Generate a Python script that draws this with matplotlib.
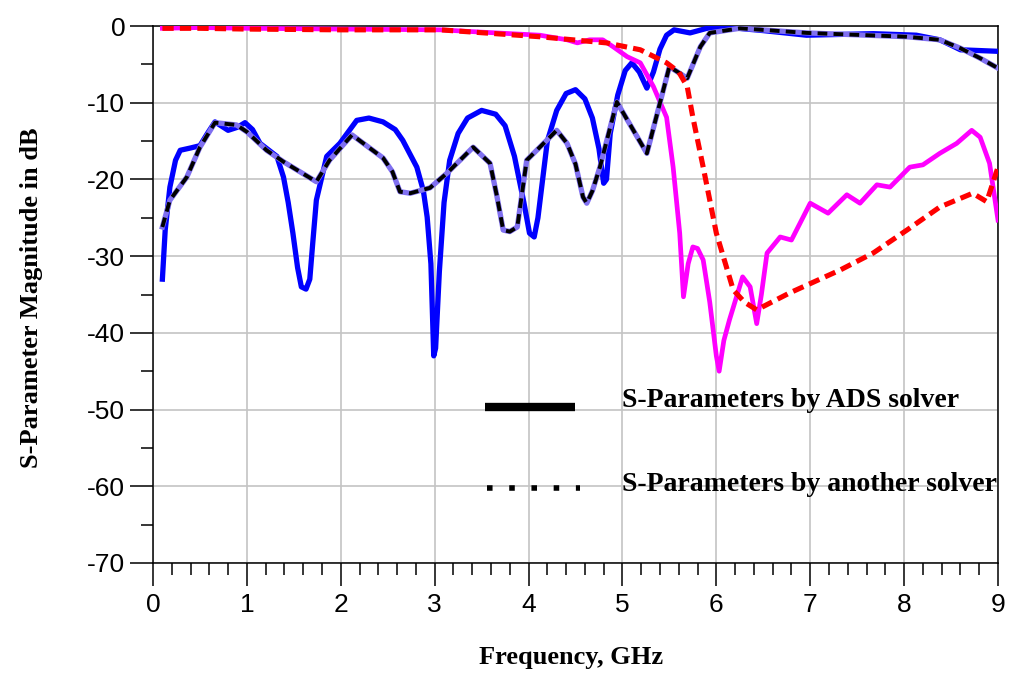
import matplotlib
matplotlib.use("Agg")
import matplotlib.pyplot as plt
from matplotlib.ticker import MultipleLocator

plt.rcParams["axes.unicode_minus"] = False

# ---- data (frequency in GHz, magnitude in dB) ----
blue_f = [0.10, 0.13, 0.18, 0.24, 0.29, 0.40, 0.50, 0.58, 0.66, 0.80, 0.90, 0.98, 1.06, 1.14, 1.32, 1.39,
          1.44, 1.49, 1.54, 1.58, 1.63, 1.67, 1.70, 1.74, 1.85, 1.99, 2.17, 2.30, 2.45, 2.58, 2.66, 2.81,
          2.88, 2.92, 2.96, 2.99, 3.01, 3.05, 3.10, 3.16, 3.25, 3.35, 3.50, 3.65, 3.75, 3.85, 3.95, 4.01,
          4.06, 4.10, 4.13, 4.20, 4.30, 4.40, 4.50, 4.60, 4.68, 4.75, 4.80, 4.83, 4.87, 4.95, 5.03, 5.10,
          5.18, 5.26, 5.33, 5.40, 5.47, 5.55, 5.72, 5.90, 6.05, 6.50, 6.96, 7.67, 8.13, 8.38, 8.50, 8.60,
          9.00]
blue_db = [-33.0, -26.6, -21.0, -17.5, -16.2, -15.9, -15.6, -14.0, -12.5, -13.6, -13.2, -12.6, -13.5, -15.3, -17.0, -19.7,
           -23.0, -27.0, -31.5, -34.0, -34.3, -33.0, -28.5, -22.7, -17.0, -15.3, -12.3, -12.0, -12.5, -13.5, -14.9, -18.4,
           -21.5, -24.9, -31.0, -43.0, -42.0, -32.0, -23.0, -17.5, -14.0, -12.0, -11.0, -11.5, -13.0, -17.0, -23.0, -27.0,
           -27.5, -25.0, -22.0, -15.0, -11.0, -8.8, -8.3, -9.5, -12.0, -16.0, -20.5, -20.0, -14.0, -9.0, -5.8, -4.8,
           -6.0, -8.1, -6.0, -3.0, -1.2, -0.5, -0.9, -0.3, -0.1, -0.6, -1.2, -1.0, -1.2, -1.8, -2.5, -3.1,
           -3.3]

black_f = [0.10, 0.18, 0.36, 0.50, 0.66, 0.89, 1.00, 1.21, 1.39, 1.74, 1.88, 2.12, 2.45, 2.55, 2.63, 2.74,
           2.95, 3.13, 3.41, 3.59, 3.66, 3.73, 3.80, 3.88, 3.98, 4.30, 4.41, 4.50, 4.58, 4.62, 4.68, 4.76,
           4.94, 5.26, 5.50, 5.69, 5.83, 5.93, 6.25, 6.96, 8.03, 8.38, 8.60, 8.81, 9.00]
black_db = [-26.2, -22.7, -19.7, -15.8, -12.6, -12.9, -13.8, -16.2, -17.7, -20.3, -17.5, -14.2, -17.2, -19.0, -21.6, -21.8,
            -21.1, -19.2, -15.8, -17.9, -22.0, -26.6, -26.8, -26.2, -17.5, -13.6, -15.3, -18.0, -22.3, -23.1, -21.5, -18.4,
            -9.9, -16.6, -5.3, -6.8, -2.7, -0.9, -0.3, -0.9, -1.4, -1.8, -2.9, -4.2, -5.5]

magenta_f = [0.10, 0.50, 1.00, 2.00, 3.06, 3.50, 4.12, 4.41, 4.52, 4.65, 4.79, 4.90, 5.05, 5.19, 5.33, 5.47,
             5.54, 5.61, 5.65, 5.70, 5.75, 5.80, 5.86, 5.93, 6.00, 6.03, 6.08, 6.14, 6.28, 6.36, 6.43, 6.48,
             6.54, 6.68, 6.80, 7.00, 7.19, 7.39, 7.53, 7.71, 7.85, 8.06, 8.20, 8.38, 8.56, 8.72, 8.81, 8.91,
             9.00]
magenta_db = [-0.3, -0.2, -0.3, -0.4, -0.5, -0.8, -1.2, -1.8, -2.2, -1.8, -1.8, -2.7, -4.0, -4.8, -7.9, -11.9,
              -18.4, -27.0, -35.3, -31.0, -28.8, -29.0, -30.5, -36.0, -43.0, -45.0, -41.0, -38.3, -32.7, -34.0, -38.8, -35.0,
              -29.6, -27.5, -27.9, -23.1, -24.4, -22.0, -23.1, -20.7, -21.0, -18.4, -18.1, -16.6, -15.3, -13.6, -14.5, -17.9,
              -25.3]

red_f = [0.10, 0.50, 1.00, 2.00, 3.06, 4.12, 4.47, 4.83, 5.19, 5.47, 5.60, 5.69, 5.75, 5.86, 6.00, 6.18,
         6.30, 6.43, 6.78, 7.32, 7.67, 8.03, 8.38, 8.73, 8.88, 9.00]
red_db = [-0.3, -0.3, -0.4, -0.5, -0.5, -1.4, -1.8, -2.2, -3.1, -4.8, -6.0, -7.9, -11.9, -18.4, -27.0, -34.4,
          -36.0, -37.0, -34.8, -31.8, -29.6, -26.6, -23.6, -21.8, -22.9, -18.4]

legend_labels = ["S-Parameters by ADS solver", "S-Parameters by another solver"]
x_ticks = [0, 1, 2, 3, 4, 5, 6, 7, 8, 9]
y_ticks = [0, -10, -20, -30, -40, -50, -60, -70]

# ---- figure ----
W, H = 1009, 673
fig = plt.figure(figsize=(W / 100, H / 100), dpi=100)
ax = fig.add_axes([153 / W, 1 - 563 / H, (998 - 153) / W, (563 - 26) / H])

ax.set_xlim(0, 9)
ax.set_ylim(-70, 0)
ax.set_xticks(x_ticks)
ax.set_yticks(y_ticks)
ax.xaxis.set_minor_locator(MultipleLocator(0.2))
ax.yaxis.set_minor_locator(MultipleLocator(5))
ax.grid(True, which="major", color="#c4c4c4", linewidth=1.2, zorder=0)
ax.set_axisbelow(True)

ax.tick_params(which="major", direction="out", length=16.5, width=1.1, colors="black")
ax.tick_params(which="minor", direction="out", length=8.5, width=1.1, colors="black")
ax.tick_params(axis="y", which="major", pad=3.5)
ax.tick_params(axis="x", which="major", pad=5)
for lab in ax.get_xticklabels() + ax.get_yticklabels():
    lab.set_family("Liberation Sans")
    lab.set_fontsize(19)
for s in ax.spines.values():
    s.set_linewidth(1.1)
    s.set_color("black")

# curves
ax.plot(blue_f, blue_db, color="#0000ff", lw=3.8, zorder=3, solid_joinstyle="round")
ax.plot(magenta_f, magenta_db, color="#ff00ff", lw=3.4, zorder=3, solid_joinstyle="round")
ax.plot(black_f, black_db, color="#8070f0", lw=3.8, zorder=4, solid_joinstyle="round")
ax.plot(black_f, black_db, color="black", lw=2.8, zorder=5, linestyle=(0, (2.5, 1.6)))
ax.plot(red_f, red_db, color="#ff0000", lw=3.7, zorder=6, linestyle=(0, (2.2, 1.2)))

# in-plot legend
ax.plot([3.54, 4.49], [-49.7, -49.7], color="black", lw=6, solid_capstyle="butt", zorder=6)
ax.plot([3.56, 4.55], [-60.2, -60.2], color="black", lw=4, linestyle=(0, (1, 3)), zorder=6)
serif = ["Liberation Serif", "DejaVu Serif"]
ax.text(5.0, -49.7, legend_labels[0], family=serif, fontweight="bold", fontsize=20,
        ha="left", va="baseline", zorder=7)
ax.text(5.0, -60.6, legend_labels[1], family=serif, fontweight="bold", fontsize=20,
        ha="left", va="baseline", zorder=7)

fig.text(571 / W, 1 - 664 / H, "Frequency, GHz", family=serif, fontweight="bold",
         fontsize=19, ha="center", va="baseline")
fig.text(32 / W, 1 - 298 / H, "S-Parameter Magnitude in dB", family=serif, fontweight="bold",
         fontsize=19, ha="center", va="center", rotation=90)

fig.savefig("out.png", dpi=100)
